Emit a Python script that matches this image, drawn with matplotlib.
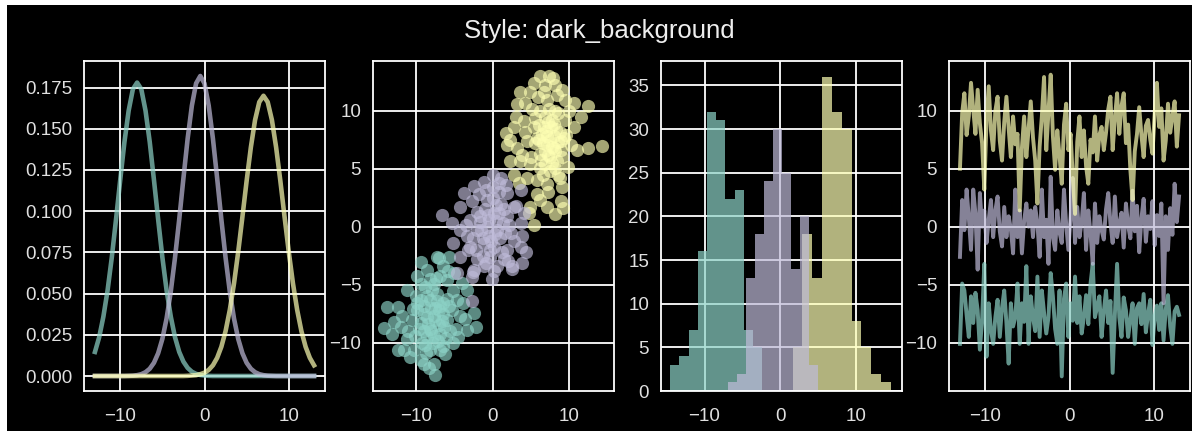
import matplotlib.pyplot as plt
import numpy as np
from matplotlib.patches import Rectangle

plt.style.use('dark_background')
plt.rcParams['font.family'] = ['Liberation Sans', 'DejaVu Sans']

TEAL = '#8dd3c7'
PURPLE = '#bfbbd9'
YELLOW = '#feffb3'

# --- panel 1: density curves, values read every half unit from -13 to 13
curve_x = np.linspace(-13, 13, 53)
curve_teal = [0.0146, 0.0235, 0.036, 0.052, 0.072, 0.095, 0.119, 0.142, 0.161, 0.174,
              0.178, 0.174, 0.161, 0.142, 0.119, 0.095, 0.072, 0.052, 0.036, 0.0235,
              0.0146, 0.0087, 0.0049, 0.0026, 0.0013, 0.0006, 0.0003, 0.0001,
              0, 0, 0, 0, 0, 0, 0, 0, 0, 0, 0, 0, 0, 0, 0, 0, 0, 0, 0, 0, 0, 0, 0, 0, 0]
curve_purple = [0, 0, 0, 0, 0, 0, 0, 0,
                0.0001, 0.0002, 0.0005, 0.0011, 0.0023, 0.0044, 0.0080, 0.0138, 0.0225,
                0.0349, 0.0513, 0.0718, 0.095, 0.120, 0.144, 0.164, 0.1775, 0.182,
                0.1775, 0.164, 0.144, 0.120, 0.095, 0.0718, 0.0513, 0.0349, 0.0225,
                0.0138, 0.0080, 0.0044, 0.0023, 0.0011, 0.0005, 0.0002, 0.0001,
                0, 0, 0, 0, 0, 0, 0, 0, 0, 0]
curve_yellow = [0, 0, 0, 0, 0, 0, 0, 0, 0, 0, 0, 0, 0, 0, 0, 0, 0, 0, 0, 0, 0, 0,
                0.0001, 0.0003, 0.0005, 0.0011, 0.0020,
                0.0037, 0.0065, 0.0110, 0.0177, 0.0272, 0.0400, 0.0561, 0.0753, 0.0966,
                0.1184, 0.1387, 0.1553, 0.1662, 0.170,
                0.1662, 0.1553, 0.1387, 0.1184, 0.0966, 0.0753, 0.0561, 0.0400, 0.0272,
                0.0177, 0.0110, 0.0065]

# --- panel 2: scatter clusters
teal_pts = [(-9.4, -3.0), (-7.0, -2.7), (-5.7, -2.6), (-8.6, -3.7), (-6.4, -3.4), (-11.2, -5.4),
            (-9.4, -4.9), (-7.7, -4.9), (-5.9, -4.6), (-3.3, -5.4), (-13.8, -6.9), (-12.3, -6.9),
            (-11.8, -7.7), (-9.9, -6.6), (-8.1, -6.3), (-6.4, -6.6), (-4.6, -6.3), (-2.4, -7.4),
            (-2.2, -8.6), (-14.2, -8.7), (-13.1, -9.2), (-12.4, -10.6), (-11.2, -9.7), (-9.4, -8.3),
            (-7.7, -7.7), (-5.9, -8.0), (-4.2, -7.7), (-3.3, -8.9), (-10.3, -10.6), (-8.6, -9.5),
            (-6.8, -9.2), (-5.1, -10.0), (-9.4, -11.5), (-8.1, -10.6), (-6.4, -10.3), (-7.7, -11.8),
            (-7.5, -12.8), (-9.0, -11.8), (-11.6, -10.6), (-8.5, -6.0), (-7.5, -7.0), (-9.0, -7.5),
            (-7.0, -8.5), (-8.0, -9.0), (-6.5, -7.5), (-8.8, -5.2), (-7.2, -5.8), (-6.0, -6.2),
            (-9.6, -8.8), (-7.8, -10.0), (-5.5, -9.0), (-10.5, -8.0), (-6.8, -4.2), (-8.2, -4.5),
            (-10.0, -6.0), (-5.2, -5.5), (-4.8, -8.8), (-9.2, -10.0), (-6.2, -11.0), (-11.0, -9.0),
            (-3.8, -6.6), (-10.8, -11.2), (-12.8, -8.2), (-8.3, -12.2), (-5.8, -3.8), (-4.0, -4.8),
            (-8.9, -6.8), (-7.3, -6.4), (-6.6, -8.1), (-8.4, -8.4), (-7.9, -5.4), (-9.8, -7.2),
            (-6.1, -9.6), (-7.1, -9.8), (-5.3, -7.2), (-10.1, -9.4), (-4.5, -9.5), (-11.9, -8.6),
            (-3.6, -7.9), (-8.7, -10.9), (-5.0, -4.0), (-9.9, -4.2), (-7.3, -2.6),
            (-8.0, -7.0), (-7.5, -8.0), (-8.5, -7.8), (-7.0, -7.2), (-9.0, -9.0), (-6.8, -6.8),
            (-8.2, -8.8), (-7.6, -9.4), (-9.3, -6.3), (-6.3, -8.6), (-7.4, -4.4), (-8.8, -10.2),
            (-5.7, -6.8), (-10.4, -7.1), (-6.9, -10.6)]
purple_pts = [(0.0, 4.5), (-1.1, 3.9), (0.8, 3.8), (-2.4, 3.5), (-3.75, 2.9), (1.9, 2.9), (3.7, 3.2),
              (-6.6, 1.0), (-4.2, 1.75), (-2.7, 2.2), (-0.7, 2.3), (1.05, 2.0), (2.8, 1.75), (4.1, 1.2),
              (-4.2, -0.25), (-2.9, 0.6), (-1.6, 0.9), (0.2, 1.2), (1.9, 0.9), (3.7, 0.3), (-3.3, -0.8),
              (-2.0, -0.25), (-0.7, 0.0), (0.6, -0.25), (2.4, -0.55), (3.9, -0.8), (-5.1, -1.4),
              (-2.9, -1.7), (-1.1, -1.4), (0.2, -1.7), (1.9, -2.0), (3.7, -1.7), (-4.2, -2.6),
              (-2.0, -2.8), (-0.3, -2.6), (1.5, -2.8), (3.9, -3.1), (-4.6, -4.0), (-2.7, -4.3),
              (-1.1, -3.4), (0.6, -3.4), (2.6, -3.4), (-2.4, -3.7), (-1.0, 1.5), (0.5, 0.5),
              (-0.5, -0.8), (1.0, -1.0), (-1.5, -0.3), (0.0, 2.5), (1.5, 1.5), (-2.0, 1.3), (0.8, 3.0),
              (-0.3, -2.0), (2.2, 0.2), (-1.2, -2.5), (1.2, -2.2), (-2.5, -1.0), (2.8, -1.2),
              (0.2, -3.8), (-3.5, 0.2), (3.0, 1.8), (-0.8, 3.2), (1.8, 3.6), (-1.8, 2.8), (2.5, -3.6),
              (-3.2, -2.0), (0.4, 1.9), (-0.4, 0.6), (-2.7, -6.4), (-2.5, -3.9), (-5.3, 0.3),
              (4.4, -2.2), (-0.1, -4.5), (1.1, 4.2), (0.3, -0.6), (-0.6, 1.0), (1.3, 0.3),
              (-1.3, -1.0), (0.9, 1.2), (-0.2, -1.2), (1.6, -0.5), (-1.7, 0.4), (0.1, 3.4),
              (-2.2, -2.0), (2.0, -2.9), (-0.9, -3.1)]
yellow_pts = [(6.24, 13.0), (7.34, 13.0), (5.37, 12.4), (8.2, 12.2), (4.93, 11.6), (6.7, 11.6),
              (8.4, 11.4), (3.6, 11.6), (10.6, 10.7), (12.4, 10.4), (9.5, 10.9), (3.2, 10.6),
              (4.3, 10.7), (7.1, 10.9), (8.2, 10.0), (6.2, 10.0), (1.7, 8.1), (2.75, 8.6), (4.1, 9.1),
              (5.4, 8.6), (6.7, 8.6), (8.0, 8.9), (10.6, 8.6), (9.3, 7.7), (14.3, 7.0), (12.4, 6.8),
              (11.0, 6.6), (10.2, 7.1), (1.9, 7.1), (3.2, 6.8), (4.5, 7.4), (5.8, 7.7), (7.1, 7.1),
              (8.0, 6.8), (8.9, 6.6), (6.2, 6.3), (7.55, 6.0), (8.4, 5.7), (2.3, 5.7), (3.6, 5.7),
              (4.9, 5.4), (6.2, 5.1), (7.55, 4.8), (8.6, 4.5), (2.75, 4.5), (4.5, 4.25), (5.8, 4.0),
              (7.1, 3.7), (9.1, 3.4), (5.8, 2.8), (8.9, 2.2), (7.1, 1.7), (8.2, 1.1), (4.9, 1.7),
              (5.4, 0.2), (4.7, 1.2), (6.5, 8.0), (7.0, 8.3), (7.5, 7.5), (8.0, 7.8), (6.8, 6.5),
              (7.2, 6.2), (8.5, 7.3), (6.0, 7.5), (7.8, 9.2), (8.8, 8.2), (6.3, 5.8), (7.7, 5.5),
              (8.2, 6.5), (9.0, 6.0), (5.5, 7.2), (6.9, 9.5), (7.4, 10.2), (8.5, 9.8), (5.2, 10.2),
              (9.5, 9.2), (4.2, 8.2), (3.8, 6.2), (9.8, 5.2), (8.8, 4.2), (6.6, 4.5), (5.0, 6.0),
              (7.3, 3.0), (6.2, 2.3), (9.2, 1.6), (3.0, 9.5), (2.3, 7.5), (7.9, 12.8), (6.9, 12.2),
              (5.9, 11.2), (9.0, 11.8), (11.5, 9.5), (10.0, 10.0), (3.5, 3.8), (7.1, 7.8),
              (7.7, 6.9), (6.6, 7.2), (8.3, 8.4), (7.3, 9.0), (6.1, 8.8), (8.9, 7.4), (7.6, 8.6),
              (6.9, 5.4), (8.1, 5.1), (5.6, 9.4), (9.6, 7.9)]

# --- panel 3: histogram counts and bin edges
hist_teal_edges = [-14.53, -13.32, -12.10, -10.89, -9.67, -8.46, -7.25, -6.03, -4.82, -3.60, -2.39]
hist_teal_counts = [3, 4, 7, 16, 32, 31, 22, 23, 7, 5]
hist_purple_edges = [-6.91, -5.72, -4.54, -3.35, -2.17, -0.98, 0.21, 1.39, 2.58, 3.76, 4.95]
hist_purple_counts = [1, 2, 13, 18, 24, 30, 25, 14, 20, 3]
hist_yellow_edges = [1.63, 2.93, 4.23, 5.53, 6.83, 8.14, 9.44, 10.74, 12.04, 13.34, 14.64]
hist_yellow_counts = [5, 18, 13, 36, 32, 30, 8, 5, 2, 1]

# --- panel 4: noisy series, sampled evenly from -13 to 13
ts_teal = [-10.1, -4.9, -5.5, -7.6, -9.5, -6.0, -8.3, -5.7, -7.2, -10.6,
           -8.0, -3.2, -11.2, -6.6, -8.9, -10.1, -7.8, -6.3, -9.5, -7.0,
           -5.5, -8.3, -11.8, -6.6, -8.6, -7.8, -4.9, -10.1, -6.6, -8.2,
           -3.4, -10.1, -6.0, -7.8, -9.0, -4.3, -9.5, -5.5, -7.4, -9.2,
           -7.8, -4.0, -6.0, -8.8, -10.1, -5.5, -12.9, -6.2, -4.9, -9.5,
           -6.6, -8.1, -4.3, -8.3, -6.0, -9.2, -7.8, -5.9, -8.4, -4.9,
           -3.2, -7.8, -6.9, -6.0, -9.5, -7.3, -5.5, -8.3, -6.4, -12.6,
           -7.6, -3.2, -7.8, -9.5, -6.1, -7.2, -9.5, -8.0, -6.6, -10.1,
           -7.0, -6.6, -8.4, -5.8, -9.1, -7.5, -6.3, -10.2, -7.7, -6.8,
           -8.9, -6.6, -9.8, -7.1, -5.9, -8.6, -10.1, -7.3, -6.9, -7.6]
ts_purple = [-2.6, 2.3, -0.3, 3.2, 0.8, -2.0, 3.2, 1.1, -3.7, 2.9,
             0.0, 1.4, -1.4, 0.6, 2.3, -0.9, 1.4, 2.6, -0.4, -1.7,
             1.7, -0.9, 0.9, -0.2, -2.3, 3.2, -0.9, 1.4, -2.3, 0.5,
             2.0, 0.0, 1.4, -0.9, 1.7, 0.3, -2.6, 3.2, -0.9, 0.6,
             -3.2, 4.3, -0.9, -2.0, 1.4, -0.5, -1.4, 3.2, 0.2, -2.0,
             0.9, 4.2, -1.4, 1.7, -0.9, 0.4, 2.9, -2.0, 1.4, -0.6,
             -3.2, 2.0, -1.4, 0.9, -0.3, -1.1, 1.5, 2.9, 0.3, -1.4,
             2.6, -0.9, 0.3, 1.2, -1.8, 2.0, 0.1, -1.0, 3.1, -0.4,
             1.8, -2.2, 0.7, 2.4, -1.3, 0.9, -0.2, 2.2, -1.6, 1.0,
             -0.8, 2.0, -6.6, 0.9, -2.0, 1.6, -0.7, 3.7, 0.4, 2.6]
ts_yellow = [5.0, 9.8, 11.5, 7.9, 9.5, 12.4, 10.1, 8.0, 11.8, 8.9,
             7.2, 3.2, 9.1, 12.1, 8.3, 6.6, 10.0, 11.2, 7.4, 5.7,
             9.0, 11.2, 8.5, 6.0, 9.5, 7.1, 8.0, 1.4, 6.8, 9.5,
             6.0, 8.4, 10.8, 7.7, 5.7, 2.0, 6.9, 9.5, 12.9, 6.6,
             9.9, 13.1, 7.8, 4.9, 8.3, 6.1, 3.7, 8.8, 10.6, 6.6,
             8.0, 4.2, 1.1, 7.3, 9.5, 6.0, 8.3, 5.2, 3.7, 7.5,
             6.4, 9.5, 5.7, 7.9, 8.6, 6.6, 8.1, 10.1, 11.2, 6.6,
             9.3, 11.5, 8.0, 10.4, 11.5, 7.2, 8.8, 4.9, 2.3, 6.5,
             8.0, 10.3, 7.9, 6.0, 8.7, 9.2, 7.5, 6.3, 9.8, 12.4,
             8.6, 10.2, 5.7, 7.4, 10.6, 8.1, 9.5, 10.8, 6.9, 9.6]


def style_axes(ax):
    ax.set_facecolor('black')
    ax.grid(True, color='white', linewidth=1.3)
    ax.set_axisbelow(True)
    for sp in ax.spines.values():
        sp.set_color('white')
        sp.set_linewidth(1.3)
    ax.tick_params(length=0, labelsize=13.5, labelcolor='#e0e0e0')
    ax.tick_params(axis='x', pad=12.5)
    ax.tick_params(axis='y', pad=8.5)


fig = plt.figure(figsize=(11.99, 4.36), dpi=100, facecolor='white')
fig.patches.append(Rectangle((7 / 1199, 5 / 436), 1185 / 1199, 426 / 436,
                             transform=fig.transFigure, facecolor='black',
                             edgecolor='none', zorder=-5))

lefts = [84, 373, 661, 949]
axes = [fig.add_axes([l / 1199, 45 / 436, 241 / 1199, 330 / 436]) for l in lefts]
ax1, ax2, ax3, ax4 = axes
for ax in axes:
    style_axes(ax)

# density curves
for ys, c in [(curve_teal, TEAL), (curve_purple, PURPLE), (curve_yellow, YELLOW)]:
    ax1.plot(curve_x, ys, color=c, linewidth=3.3, alpha=0.7)
ax1.set_xticks([-10, 0, 10])
ax1.set_yticks(np.arange(0, 0.176, 0.025))

# scatter
for pts, c in [(teal_pts, TEAL), (yellow_pts, YELLOW), (purple_pts, PURPLE)]:
    xs, ys = zip(*pts)
    ax2.scatter(xs, ys, s=90, color=c, alpha=0.65, linewidths=0)
ax2.set_xlim(-15.6, 15.85)
ax2.set_ylim(-14.15, 14.3)
ax2.set_xticks([-10, 0, 10])
ax2.set_yticks([-10, -5, 0, 5, 10])

# histograms (purple drawn last so overlaps read grey / light blue)
for counts, edges, c in [(hist_teal_counts, hist_teal_edges, TEAL),
                         (hist_yellow_counts, hist_yellow_edges, YELLOW),
                         (hist_purple_counts, hist_purple_edges, PURPLE)]:
    ax3.stairs(counts, edges, fill=True, color=c, alpha=0.7)
ax3.set_xlim(-15.75, 16.1)
ax3.set_ylim(0, 37.8)
ax3.set_xticks([-10, 0, 10])
ax3.set_yticks(range(0, 36, 5))

# noisy series
ts_x = np.linspace(-13, 13, len(ts_teal))
for ys, c in [(ts_teal, TEAL), (ts_purple, PURPLE), (ts_yellow, YELLOW)]:
    ax4.plot(ts_x, ys, color=c, linewidth=2.8, alpha=0.7)
ax4.set_ylim(-14.16, 14.28)
ax4.set_xticks([-10, 0, 10])
ax4.set_yticks([-10, -5, 0, 5, 10])

fig.text(0.5, 1 - 31 / 436, 'Style: dark_background', ha='center', va='center',
         fontsize=18.5, color='#eeeeee')

fig.savefig('out.png', dpi=100, facecolor=fig.get_facecolor())
